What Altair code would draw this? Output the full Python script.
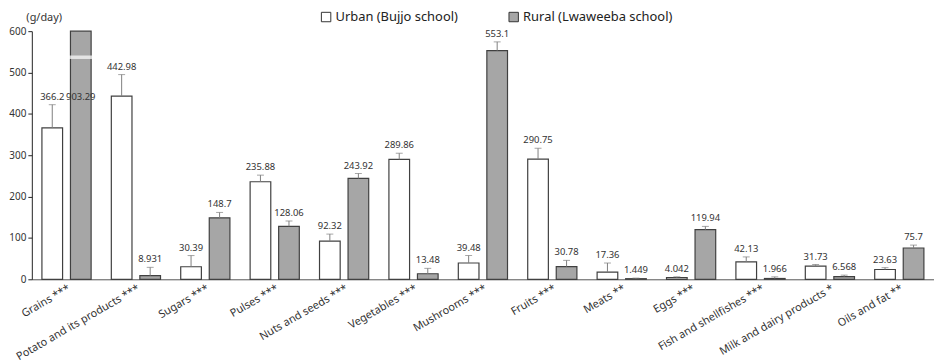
import altair as alt
import pandas as pd

categories = ["Grains ***", "Potato and its products ***", "Sugars ***", "Pulses ***",
              "Nuts and seeds ***", "Vegetables ***", "Mushrooms ***", "Fruits ***",
              "Meats **", "Eggs ***", "Fish and shellfishes ***",
              "Milk and dairy products *", "Oils and fat **"]
urban = [366.2, 442.98, 30.39, 235.88, 92.32, 289.86, 39.48, 290.75, 17.36, 4.042, 42.13, 31.73, 23.63]
urban_sd = [56, 52, 27, 16, 17, 15, 18, 26, 22, 2, 12, 4, 4.5]
rural = [903.29, 8.931, 148.7, 128.06, 243.92, 13.48, 553.1, 30.78, 1.449, 119.94, 1.966, 6.568, 75.7]
rural_sd = [0, 20, 13, 13, 12, 13, 21, 15, 1.5, 8, 4, 3.5, 7]
groups = ["Urban (Bujjo school)", "Rural (Lwaweeba school)"]
y_max = 600

rows = []
for i, c in enumerate(categories):
    u_top = urban[i] + urban_sd[i]
    for g, v, sd in ((groups[0], urban[i], urban_sd[i]), (groups[1], rural[i], rural_sd[i])):
        top = v + sd
        rows.append({
            "category": c, "group": g, "value": v, "label": str(v),
            "bar": min(v, y_max), "top": top,
            "label_y": top if top <= y_max else u_top,
            "clipped": v > y_max,
        })
df = pd.DataFrame(rows)

FONT = "Noto Sans"
x_enc = alt.X("category:N", sort=categories,
              scale=alt.Scale(paddingInner=0, paddingOuter=0),
              axis=alt.Axis(title=None, labelAngle=330, labelAlign="right", labelBaseline="top",
                            labelFontSize=11, labelColor="#333", ticks=False, labelPadding=3,
                            domainColor="#555", labelFont=FONT))
xo_enc = alt.XOffset("group:N", sort=groups,
                     scale=alt.Scale(paddingInner=0.276, paddingOuter=0.354))
y_scale = alt.Scale(domain=[0, y_max], nice=False)

base = alt.Chart(df)

bars = base.mark_bar(stroke="#404040", strokeWidth=1.2).encode(
    x=x_enc, xOffset=xo_enc,
    y=alt.Y("bar:Q", scale=y_scale,
            axis=alt.Axis(title="(g/day)", values=[0, 100, 200, 300, 400, 500, 600],
                          grid=False, tickSize=4, tickColor="#222", domainColor="#222",
                          labelFontSize=10, labelColor="#333", labelPadding=2, labelFont=FONT,
                          titleAngle=0, titleAlign="left", titleBaseline="middle",
                          titleX=-6, titleY=-14, titleFontSize=11, titleFontWeight="normal",
                          titleColor="#333", titleFont=FONT)),
    fill=alt.Fill("group:N", sort=groups,
                  scale=alt.Scale(domain=groups, range=["#ffffff", "#a6a6a6"]),
                  legend=alt.Legend(title=None, orient="none", direction="horizontal",
                                    legendX=290, legendY=-21, symbolType="square",
                                    symbolSize=90, symbolStrokeColor="#333",
                                    symbolStrokeWidth=1, labelFontSize=13,
                                    labelColor="#222", labelFont=FONT, columnPadding=48,
                                    labelOffset=3)),
)

err = base.transform_filter(alt.datum.top <= y_max)
rules = err.mark_rule(color="#7f7f7f", strokeWidth=1).encode(
    x=x_enc, xOffset=xo_enc, y=alt.Y("value:Q", scale=y_scale), y2="top:Q")
caps = err.mark_tick(color="#7f7f7f", size=7, thickness=1).encode(
    x=x_enc, xOffset=xo_enc, y=alt.Y("top:Q", scale=y_scale))

brk = base.transform_filter(alt.datum.clipped).mark_tick(
    color="white", size=25, thickness=3.5).encode(
    x=x_enc, xOffset=xo_enc, y=alt.Y(datum=537, scale=y_scale))

labels = base.mark_text(fontSize=9.5, color="#333", baseline="bottom", dy=-3, font=FONT).encode(
    x=x_enc, xOffset=xo_enc, y=alt.Y("label_y:Q", scale=y_scale), text="label:N")

chart = alt.layer(bars, rules, caps, brk, labels).properties(
    width=909, height=250,
    autosize=alt.AutoSizeParams(type="none"),
    padding={"left": 24, "top": 22, "right": 0, "bottom": 85},
).configure_view(stroke=None)

chart.save("out.html", embed_options={"renderer": "svg", "actions": False})
